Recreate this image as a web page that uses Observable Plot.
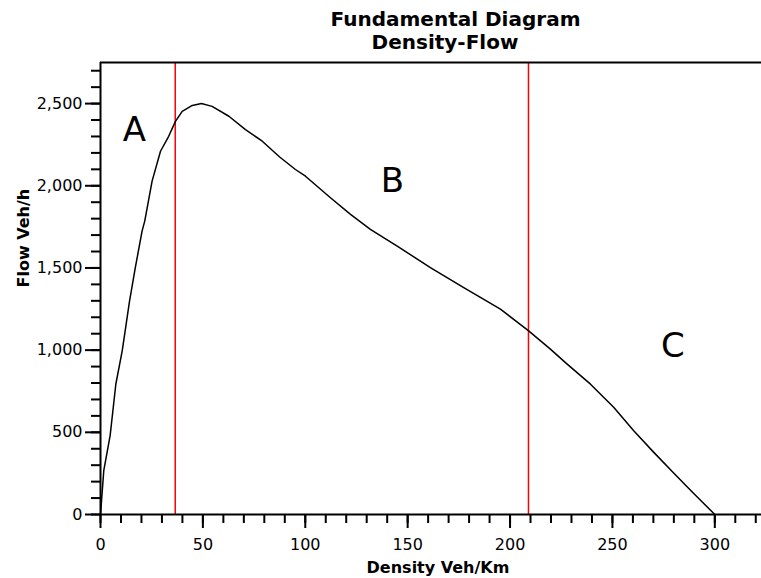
<!DOCTYPE html>
<html><head><meta charset="utf-8">
<script src="https://cdn.jsdelivr.net/npm/d3@7"></script>
<script src="https://cdn.jsdelivr.net/npm/@observablehq/plot@0.6"></script>
<style>body{margin:0;background:#fff} #chart{width:761px;height:578px}</style>
</head><body><div id="chart"></div>
<script>
// Fundamental diagram: density (veh/km) vs flow (veh/h)
const density = [0, 1.6, 4.7, 7.5, 10.6, 14.2, 17.0, 20.3, 21.6, 25.2, 29.3, 33.3, 36.6, 39.9, 44.8, 49.3, 54.5, 62.7, 70.8, 79.0, 87.5, 95.2, 100.1, 112.3, 122.1, 131.8, 144.9, 161.1, 177.4, 195.3, 209.1, 219.7, 227.9, 239.3, 250.6, 260.4, 270.2, 279.9, 289.7, 300];
const flow    = [0, 267, 480, 794, 996, 1300, 1502, 1724, 1785, 2028, 2210, 2301, 2392, 2453, 2489, 2501, 2483, 2423, 2342, 2271, 2175, 2099, 2058, 1927, 1826, 1735, 1633, 1502, 1380, 1249, 1117, 1006, 915, 793, 652, 510, 378, 252, 128, 0];

const boundaries = [36.5, 209];
const regionLabels = ["A", "B", "C"];
const labelDensity = [16.6, 142.6, 279.5];
const labelFlow = [2271, 1961, 956];

const titleLines = ["Fundamental Diagram", "Density-Flow"];
const xLabel = "Density Veh/Km";
const yLabel = "Flow Veh/h";

const xMajorTicks = [0, 50, 100, 150, 200, 250, 300];
const xMinorTicks = d3.range(0, 330, 10);
const yMajorTicks = [0, 500, 1000, 1500, 2000, 2500];
const yMinorTicks = d3.range(0, 2800, 100);

const curve = density.map((d, i) => ({density: d, flow: flow[i]}));
const font = "DejaVu Sans, Verdana, sans-serif";

const plot = Plot.plot({
  width: 761, height: 578,
  marginLeft: 100, marginRight: 0, marginTop: 62, marginBottom: 64,
  style: {fontFamily: font, fontSize: "16px", color: "#000", background: "#fff"},
  x: {domain: [0, 322.8]},
  y: {domain: [0, 2750]},
  marks: [
    Plot.axisX(xMinorTicks, {tickSize: 9, tickFormat: () => "", strokeWidth: 2, label: null}),
    Plot.axisX(xMajorTicks, {tickSize: 14, tickPadding: 10, strokeWidth: 2, label: null, tickFormat: d3.format("d")}),
    Plot.axisY(yMinorTicks, {tickSize: 9, tickFormat: () => "", strokeWidth: 2, label: null}),
    Plot.axisY(yMajorTicks, {tickSize: 15, tickPadding: 3, strokeWidth: 2, label: null, tickFormat: d3.format(",")}),
    Plot.ruleX(boundaries, {stroke: "red", strokeWidth: 1.5}),
    Plot.line(curve, {x: "density", y: "flow", stroke: "black", strokeWidth: 1.5}),
    Plot.ruleY([0], {stroke: "black", strokeWidth: 2}),
    Plot.ruleY([2750], {stroke: "black", strokeWidth: 2}),
    Plot.ruleX([0], {stroke: "black", strokeWidth: 2}),
    Plot.text(regionLabels, {x: (d, i) => labelDensity[i], y: (d, i) => labelFlow[i], text: d => d, fontSize: 34, lineAnchor: "bottom", fill: "black"}),
    Plot.text([titleLines[0]], {text: d => d, frameAnchor: "top", dx: 24.5, dy: -37, fontWeight: "bold", fontSize: 20, lineAnchor: "bottom", fill: "black"}),
    Plot.text([titleLines[1]], {text: d => d, frameAnchor: "top", dx: 14, dy: -13.5, fontWeight: "bold", fontSize: 20, lineAnchor: "bottom", fill: "black"}),
    Plot.text([xLabel], {text: d => d, frameAnchor: "bottom", dx: 7, dy: 58, fontWeight: "bold", fontSize: 16, lineAnchor: "bottom", fill: "black"}),
    Plot.text([yLabel], {text: d => d, frameAnchor: "left", dx: -77, dy: -1, rotate: -90, fontWeight: "bold", fontSize: 16, lineAnchor: "middle", fill: "black"})
  ]
});
document.getElementById("chart").appendChild(plot);
</script>
</body></html>
